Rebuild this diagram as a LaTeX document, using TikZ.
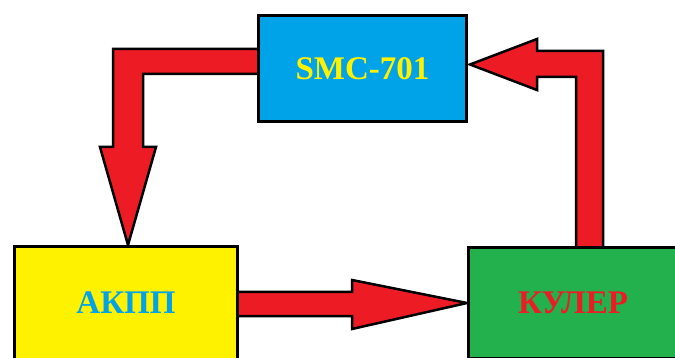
\documentclass[tikz,border=0pt]{standalone}
\usepackage{fontspec}
\setmainfont{Liberation Serif}
\usepackage{tikz}
\usetikzlibrary{calc,backgrounds}
\tikzset{
  every picture/.append style={line width=3pt},
}

\begin{document}
\begin{tikzpicture}[
    x=1pt, y=-1pt,
    block/.style={
        rectangle,
        draw=black,
        line width=3pt,
        inner sep=0pt,
        font=\fontsize{33}{36}\selectfont\bfseries
    },
    bigarrow/.style={
        draw=black,
        fill=arrowred,
        line width=2.5pt,
        line join=miter
    }
]
% Color definitions
\definecolor{smcblue}{RGB}{0,162,232}
\definecolor{akppyellow}{RGB}{255,242,0}
\definecolor{kulergreen}{RGB}{34,177,76}
\definecolor{arrowred}{RGB}{237,28,36}

\useasboundingbox (0,0) rectangle (675,358);

% Units
\node[block, fill=smcblue, text=akppyellow, minimum width=208pt, minimum height=106pt] (smc) at (362.5,68.5) {SMC-701};
\node[block, fill=akppyellow, text=smcblue, minimum width=223pt, minimum height=113pt] (akpp) at (126,303) {АКПП};
\node[block, fill=kulergreen, text=arrowred, minimum width=209pt, minimum height=110pt] (kuler) at (573,303) {КУЛЕР};

% Flow arrows
\begin{scope}[on background layer]
\draw[bigarrow] ($(smc.west)+(3,-19.5)$) -- (113,49) -- (113,147) -- (100,147)
    -- ($(akpp.north)+(2,0)$) -- (156,147) -- (143,147) -- (143,74)
    -- ($(smc.west)+(3,5.5)$) -- cycle;
\draw[bigarrow] ($(akpp.east)+(-3,-11)$) -- (352,292) -- (352,280)
    -- (kuler.west) -- (352,329) -- (352,316)
    -- ($(akpp.east)+(-3,13)$) -- cycle;
\draw[bigarrow] ($(kuler.north)+(3,3)$) -- (576,77) -- (537,77) -- (537,90)
    -- ($(smc.east)+(2,-4)$) -- (537,39) -- (537,51) -- (603,51)
    -- ($(kuler.north)+(30,3)$) -- cycle;
\end{scope}
\end{tikzpicture}
\end{document}
